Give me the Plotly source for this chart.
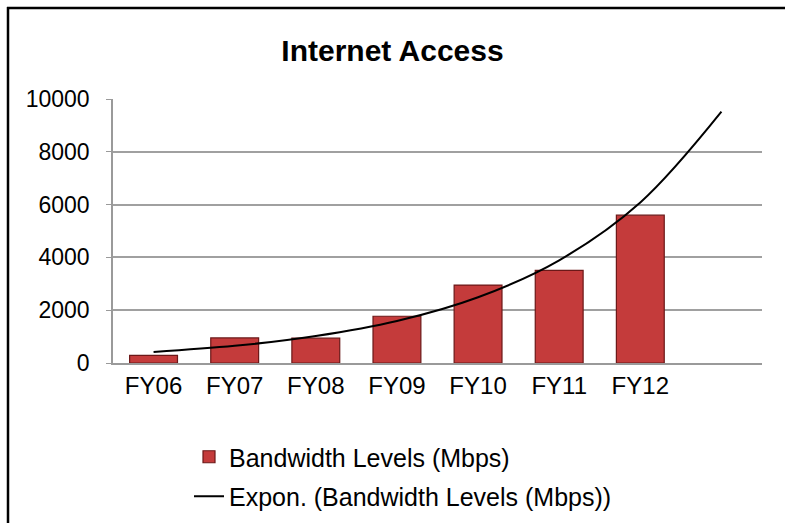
import plotly.graph_objects as go

# ---- data ----
categories = ["FY06", "FY07", "FY08", "FY09", "FY10", "FY11", "FY12"]
bandwidth_mbps = [290, 950, 940, 1770, 2950, 3510, 5600]
# exponential trendline as drawn (one period forecast beyond FY12)
trend_values = [420, 650, 1020, 1590, 2490, 3890, 6080, 9520]
y_ticks = [0, 2000, 4000, 6000, 8000, 10000]

W, H = 785, 523
L, R, T, B = 113, 23, 99, 160   # plot-area margins in px
pw, ph = W - L - R, H - T - B

def px_x(x):
    return (x - L) / pw

def px_y(y):
    return (H - B - y) / ph

bar_x = list(range(len(categories)))
trend_x = list(range(len(trend_values)))

fig = go.Figure()
fig.add_trace(go.Bar(
    x=bar_x, y=bandwidth_mbps, name="Bandwidth Levels (Mbps)", legendgroup="a",
    marker=dict(color="#c43b3b", line=dict(color="#6b1818", width=1.2)),
    width=0.59,
))
fig.add_trace(go.Scatter(
    x=trend_x, y=trend_values, mode="lines", legendgroup="b",
    name="Expon. (Bandwidth Levels (Mbps))",
    line=dict(color="black", width=2, shape="spline", smoothing=1.0),
))

fig.update_layout(
    width=W, height=H,
    margin=dict(l=L, r=R, t=T, b=B, autoexpand=False),
    paper_bgcolor="white", plot_bgcolor="white",
    font=dict(family="Liberation Sans, Arial, sans-serif", color="black"),
    title=dict(text="<b>Internet Access</b>", x=0.5, xanchor="center",
               xref="container", yref="container", y=1 - 50 / H, yanchor="middle",
               font=dict(size=30, color="black")),
    showlegend=True,
    legend=dict(x=px_x(189), y=px_y(434), xanchor="left", yanchor="top",
                font=dict(size=25), bgcolor="rgba(0,0,0,0)",
                traceorder="grouped", tracegroupgap=4),
    xaxis=dict(range=[-0.5, len(trend_values) - 0.5], tickvals=bar_x, ticktext=categories,
               showgrid=False, zeroline=False, showline=True, linecolor="#9a9a9a",
               linewidth=1.5, ticks="", tickfont=dict(size=24), ticklabelstandoff=0),
    yaxis=dict(range=[0, 10000], tickvals=y_ticks, tickformat="d", showgrid=True,
               gridcolor="#a0a0a0", gridwidth=1.5, zeroline=False, showline=True,
               linecolor="#9a9a9a", linewidth=1.5, ticks="outside", ticklen=5,
               tickcolor="#9a9a9a", tickfont=dict(size=23), ticklabelstandoff=12),
    bargap=0.41,
)

# outer chart border: left and top edges
fig.add_shape(type="line", xref="paper", yref="paper",
              x0=px_x(8), x1=px_x(8), y0=px_y(530), y1=px_y(7),
              line=dict(color="black", width=2.5), layer="above")
fig.add_shape(type="line", xref="paper", yref="paper",
              x0=px_x(7), x1=px_x(790), y0=px_y(8), y1=px_y(8),
              line=dict(color="black", width=2.5), layer="above")

fig.write_html("out.html", config={"displayModeBar": False},
               post_script="document.body.style.margin='0';document.body.style.overflow='hidden';")
